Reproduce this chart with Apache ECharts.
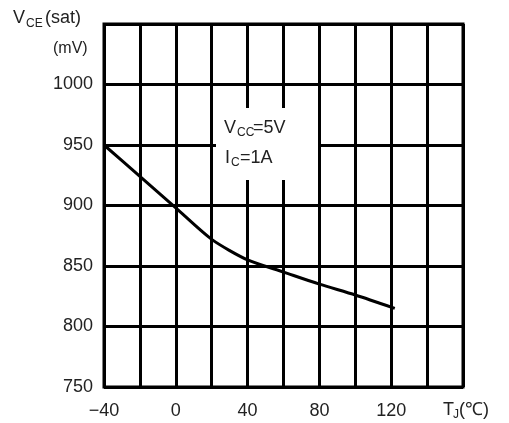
<!DOCTYPE html>
<html><head><meta charset="utf-8">
<script src="https://cdn.jsdelivr.net/npm/echarts@6/dist/echarts.min.js"></script>
<style>html,body{margin:0;padding:0;background:#fff}#c{width:509px;height:423px}</style>
</head><body><div id="c"></div>
<script>
// Data
var tempC = [-40, -20, 0, 20, 40, 60, 80, 100, 122];
var vceSat = [950, 924, 898, 872, 855, 845, 835, 826, 815];
var xTickLabels = [-40, 0, 40, 80, 120];
var yTickLabels = [750, 800, 850, 900, 950, 1000];

var FONT = 'Liberation Sans';
var TXT = '#222';
var chart = echarts.init(document.getElementById('c'));
var pts = tempC.map(function (t, i) { return [t, vceSat[i]]; });

function txt(x, y, s, size, align) {
  return { type: 'text', x: x, y: y, z: 20,
    style: { text: s, fill: TXT, font: size + 'px "' + FONT + '"', textAlign: align || 'left', textVerticalAlign: 'middle' } };
}

chart.setOption({
  animation: false,
  grid: { left: 104, right: 46, top: 24, bottom: 36, show: true, borderColor: '#000', borderWidth: 3 },
  xAxis: {
    type: 'value', min: -40, max: 160, interval: 20,
    axisLine: { show: false }, axisTick: { show: false },
    splitLine: { show: true, lineStyle: { color: '#000', width: 3 } },
    axisLabel: {
      color: TXT, fontFamily: FONT, fontSize: 18, margin: 15,
      formatter: function (v) {
        if (xTickLabels.indexOf(v) < 0) return '';
        return v < 0 ? '\u2212' + Math.abs(v) : String(v);
      }
    }
  },
  yAxis: {
    type: 'value', min: 750, max: 1050, interval: 50,
    axisLine: { show: false }, axisTick: { show: false },
    splitLine: { show: true, lineStyle: { color: '#000', width: 3 } },
    axisLabel: {
      color: TXT, fontFamily: FONT, fontSize: 18, margin: 11,
      formatter: function (v) { return yTickLabels.indexOf(v) < 0 ? '' : String(v); }
    }
  },
  series: [{
    type: 'line', data: pts, showSymbol: false, smooth: 0.25,
    lineStyle: { color: '#000', width: 3 }, z: 5
  }],
  graphic: [
    { type: 'rect', z: 10, shape: { x: 216, y: 108, width: 102, height: 72 }, style: { fill: '#fff' } },
    txt(224, 128, 'V', 18), txt(237, 133, 'CC', 12), txt(253, 128, '=5V', 18),
    txt(225, 158, 'I', 18), txt(231, 163, 'C', 12), txt(240, 158, '=1A', 18),
    txt(13, 18, 'V', 18), txt(26, 24, 'CE', 12), txt(45, 18, '(sat)', 18),
    txt(53, 49, '(mV)', 16),
    txt(443, 410, 'T', 18), txt(453, 415, 'J', 12), txt(459, 410, '(\u2103)', 18)
  ]
});
</script></body></html>
